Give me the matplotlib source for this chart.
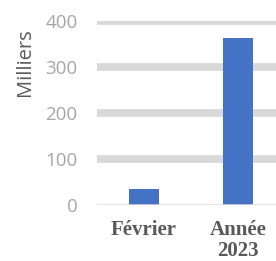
import matplotlib
matplotlib.use("Agg")
import matplotlib.pyplot as plt

categories = ["Février", "Année\n2023"]
values = [34, 362]
yticks = [0, 100, 200, 300, 400]

W, H = 276, 261
fig = plt.figure(figsize=(W/100, H/100), dpi=100)
left, right = 97, 285
y0, y400 = 205, 21
ax = fig.add_axes([left/W, (H - y0)/H, (right-left)/W, (y0 - y400)/H])
ax.set_ylim(0, 400)
ax.set_xlim(-0.5, 1.5)

for t in yticks[1:]:
    ax.axhline(t, color="#D9D9D9", lw=5.5, zorder=0, solid_capstyle="butt")
ax.axhline(0, color="#D9D9D9", lw=1.8, zorder=3)

ax.bar(range(len(categories)), values, width=0.31, color="#4472C4", zorder=2)

for s in ax.spines.values():
    s.set_visible(False)
ax.set_yticks(yticks)
ax.set_yticklabels([str(t) for t in yticks], fontsize=13.5, color="#A6A6A6",
                   family="Open Sans")
ax.tick_params(axis="y", length=0, pad=14)
ax.set_xticks(range(len(categories)))
ax.set_xticklabels(categories, fontsize=15, fontweight="bold", color="#595959",
                   family="Liberation Serif", linespacing=1.05)
ax.tick_params(axis="x", length=0, pad=11)

fig.text(25/W, (H-62)/H, "Milliers", rotation=90, ha="center", va="center",
         fontsize=14.5, color="#595959", family="Open Sans")

fig.savefig("out.png", dpi=100)
